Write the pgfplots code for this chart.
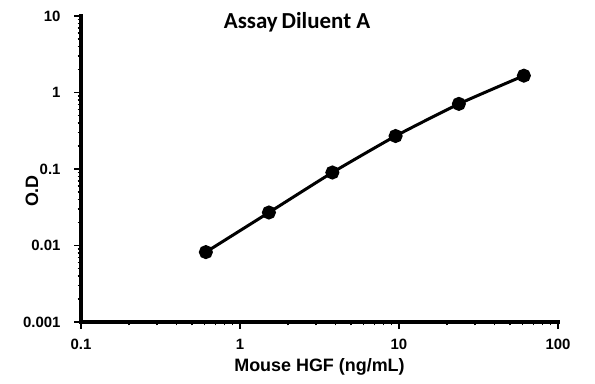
\documentclass[border=0pt]{standalone}
\usepackage{fontspec}
\setmainfont{Liberation Sans}
\newfontfamily\calibri{Carlito}
\usepackage{pgfplots}
\pgfplotsset{compat=1.18}
\newcommand{\tl}{\bfseries\fontsize{15}{16}\selectfont}
\begin{document}
\begin{tikzpicture}
\useasboundingbox (-81bp,-62bp) rectangle (514bp,322bp);
\begin{axis}[
  at={(0,0)}, anchor=south west,
  scale only axis, width=477bp, height=306bp,
  xmode=log, ymode=log,
  xmin=0.1, xmax=100, ymin=0.001, ymax=10,
  axis x line*=bottom, axis y line*=left,
  axis line style={line width=4bp, black},
  xtick={0.1,1,10,100}, xticklabels={\tl 0.1,\tl 1,\tl 10,\tl 100},
  ytick={0.001,0.01,0.1,1,10}, yticklabels={\tl 0.001,\tl 0.01,\tl 0.1,\tl 1,\tl 10},
  tick align=outside,
  major tick length=7bp, minor tick length=3.5bp,
  every tick/.style={black, line width=1.5bp},
  xticklabel style={yshift=-7bp},
  yticklabel style={xshift=-10bp},
  title={\calibri\bfseries Assay\,Diluent A},
  title style={at={(rel axis cs:0.453,0.961)}, anchor=center, font=\fontsize{23}{24}\selectfont},
  xlabel={Mouse HGF (ng/mL)},
  xlabel style={at={(rel axis cs:0.5,-0.147)}, anchor=center, font=\bfseries\fontsize{18}{20}\selectfont},
  ylabel={O.D},
  ylabel style={at={(rel axis cs:-0.103,0.428)}, anchor=center, font=\bfseries\fontsize{18}{20}\selectfont},
  clip=false,
]
\addplot[black, line width=3bp, smooth, tension=0.3, mark=*, mark size=5.5bp, mark options={solid, fill=black}]
  coordinates {
  (0.61,0.0082)
  (1.52,0.027)
  (3.81,0.090)
  (9.52,0.27)
  (23.8,0.71)
  (61,1.66)
  };
\draw[black, line width=4bp, line cap=rect] (rel axis cs:0,1) -- (rel axis cs:0,0) -- (rel axis cs:1,0);
\end{axis}
\end{tikzpicture}
\end{document}
